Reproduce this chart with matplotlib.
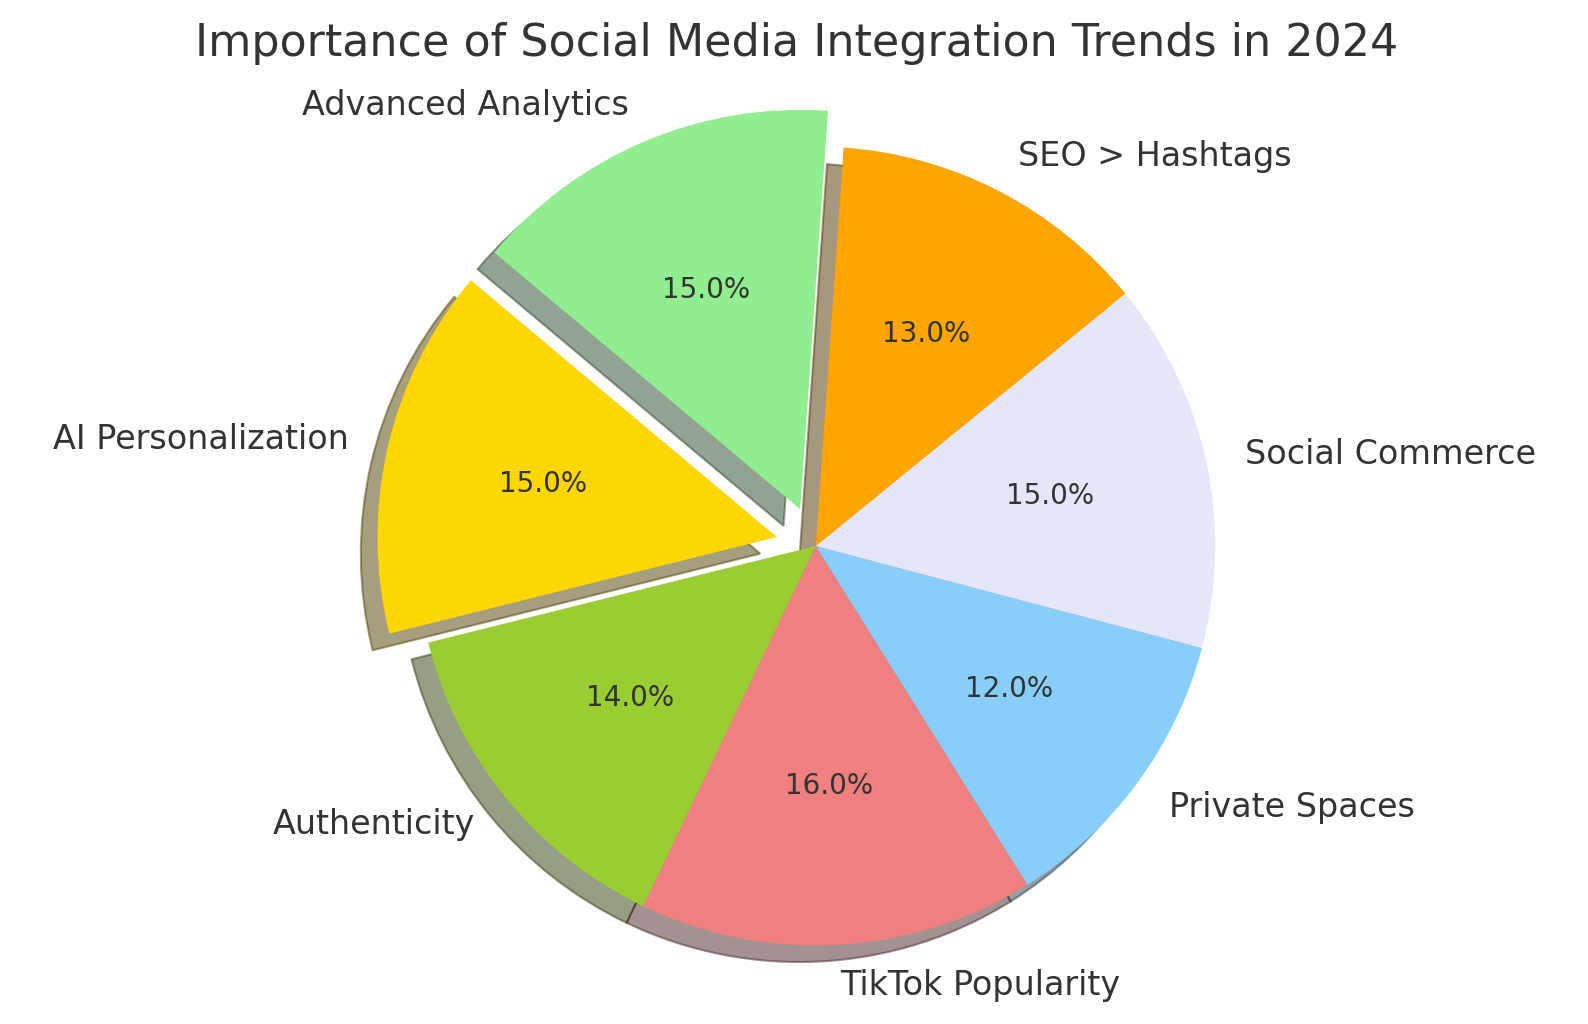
import matplotlib.pyplot as plt

labels = ['AI Personalization', 'Authenticity', 'TikTok Popularity', 'Private Spaces',
          'Social Commerce', 'SEO > Hashtags', 'Advanced Analytics']
values = [15, 14, 16, 12, 15, 13, 15]
colors = ['#FFD700', '#9ACD32', '#F08080', '#87CEFA', '#E6E6FA', '#FFA500', '#90EE90']
explode = [0.1, 0, 0, 0, 0, 0, 0.1]

plt.rcParams['text.color'] = '#333333'

fig, ax = plt.subplots(figsize=(10.593, 6.833), dpi=150)
wedges, texts, autotexts = ax.pie(values, labels=labels, colors=colors, explode=explode,
                                  autopct='%1.1f%%', startangle=140, shadow=True,
                                  textprops={'fontsize': 16})
for t in autotexts:
    t.set_fontsize(13.3)
    t.set_color('#333333')
ax.set_title('Importance of Social Media Integration Trends in 2024', fontsize=21.3, color='#333333')
ax.axis('equal')
plt.tight_layout()
plt.savefig('out.png', dpi=150)
